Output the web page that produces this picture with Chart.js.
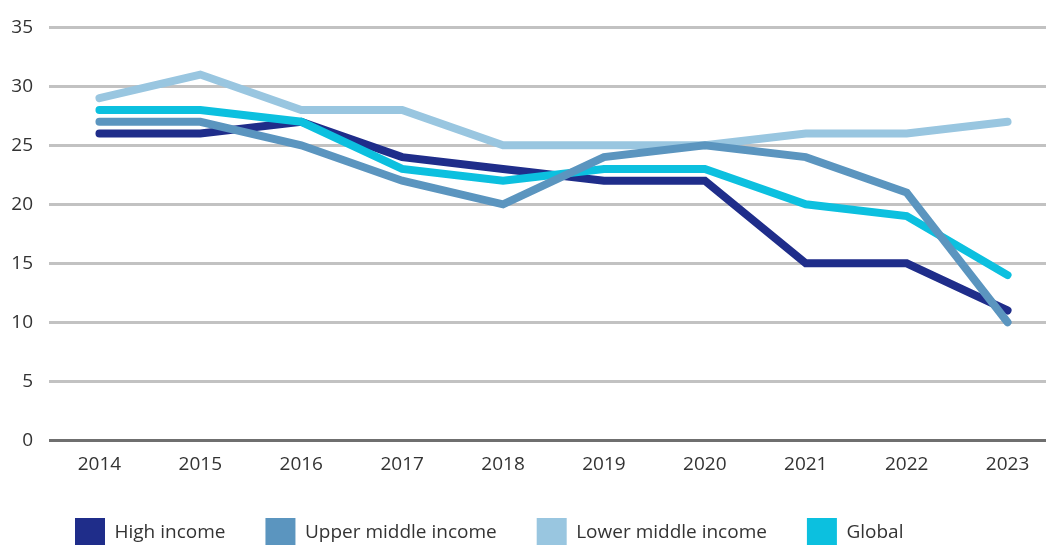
<!DOCTYPE html>
<html>
<head>
<meta charset="utf-8">
<script src="https://cdn.jsdelivr.net/npm/chart.js@4.4.1/dist/chart.umd.min.js"></script>
<style>
    html, body { margin: 0; padding: 0; background: #fff; overflow: hidden; }
    #wrap { width: 1058px; height: 561px; position: relative; }
</style>
</head>
<body>
<div id="wrap"><canvas id="chart"></canvas></div>
<script>
const years = ['2014', '2015', '2016', '2017', '2018', '2019', '2020', '2021', '2022', '2023'];
const highIncome = [26, 26, 27, 24, 23, 22, 22, 15, 15, 11];
const upperMiddle = [27, 27, 25, 22, 20, 24, 25, 24, 21, 10];
const lowerMiddle = [29, 31, 28, 28, 25, 25, 25, 26, 26, 27];
const globalAvg = [28, 28, 27, 23, 22, 23, 23, 20, 19, 14];

const FONT = { family: '"Open Sans", sans-serif', size: 19 };
const TEXT_COLOR = '#333333';

// nudge the legend row to where it sits in the original
const legendShift = {
    id: 'legendShift',
    afterLayout(chart) {
        const lg = chart.legend;
        if (!lg) return;
        lg.left = 35;
        lg.top -= 3;
        lg.bottom -= 3;
    }
};

function lineSet(label, data, color, order) {
    return {
        label: label,
        data: data,
        borderColor: color,
        backgroundColor: color,
        borderWidth: 8,
        borderCapStyle: 'round',
        borderJoinStyle: 'miter',
        pointRadius: 0,
        pointHoverRadius: 0,
        tension: 0,
        fill: false,
        order: order
    };
}

const ctx = document.getElementById('chart').getContext('2d');
new Chart(ctx, {
    type: 'line',
    data: {
        labels: years,
        datasets: [
            lineSet('High income', highIncome, '#1f2d8a', 2),
            lineSet('Upper middle income', upperMiddle, '#5b95bf', 0),
            lineSet('Lower middle income', lowerMiddle, '#99c6e0', 3),
            lineSet('Global', globalAvg, '#0cc0df', 1)
        ]
    },
    options: {
        responsive: true,
        maintainAspectRatio: false,
        animation: false,
        layout: { padding: { top: 14, left: 0, right: 0, bottom: 0 } },
        plugins: {
            tooltip: { enabled: false },
            legend: {
                position: 'bottom',
                align: 'start',
                labels: {
                    color: TEXT_COLOR,
                    font: FONT,
                    boxWidth: 30,
                    boxHeight: 30,
                    padding: 40,
                    sort: (a, b) => a.datasetIndex - b.datasetIndex,
                    generateLabels: chart => {
                        const items = Chart.defaults.plugins.legend.labels.generateLabels(chart);
                        items.forEach(it => { it.lineWidth = 0; });
                        return items;
                    }
                }
            }
        },
        scales: {
            x: {
                offset: true,
                grid: { display: false },
                border: { display: false },
                ticks: { color: TEXT_COLOR, font: FONT, padding: 5, maxRotation: 0 }
            },
            y: {
                min: 0,
                max: 35,
                border: { display: false },
                afterFit: s => { s.width = 49; },
                grid: {
                    drawTicks: false,
                    lineWidth: 3,
                    color: c => (c.tick && c.tick.value === 0) ? '#6f6f6f' : '#c2c2c2'
                },
                ticks: { stepSize: 5, color: TEXT_COLOR, font: FONT, padding: 16 }
            }
        }
    },
    plugins: [legendShift]
});
</script>
</body>
</html>
